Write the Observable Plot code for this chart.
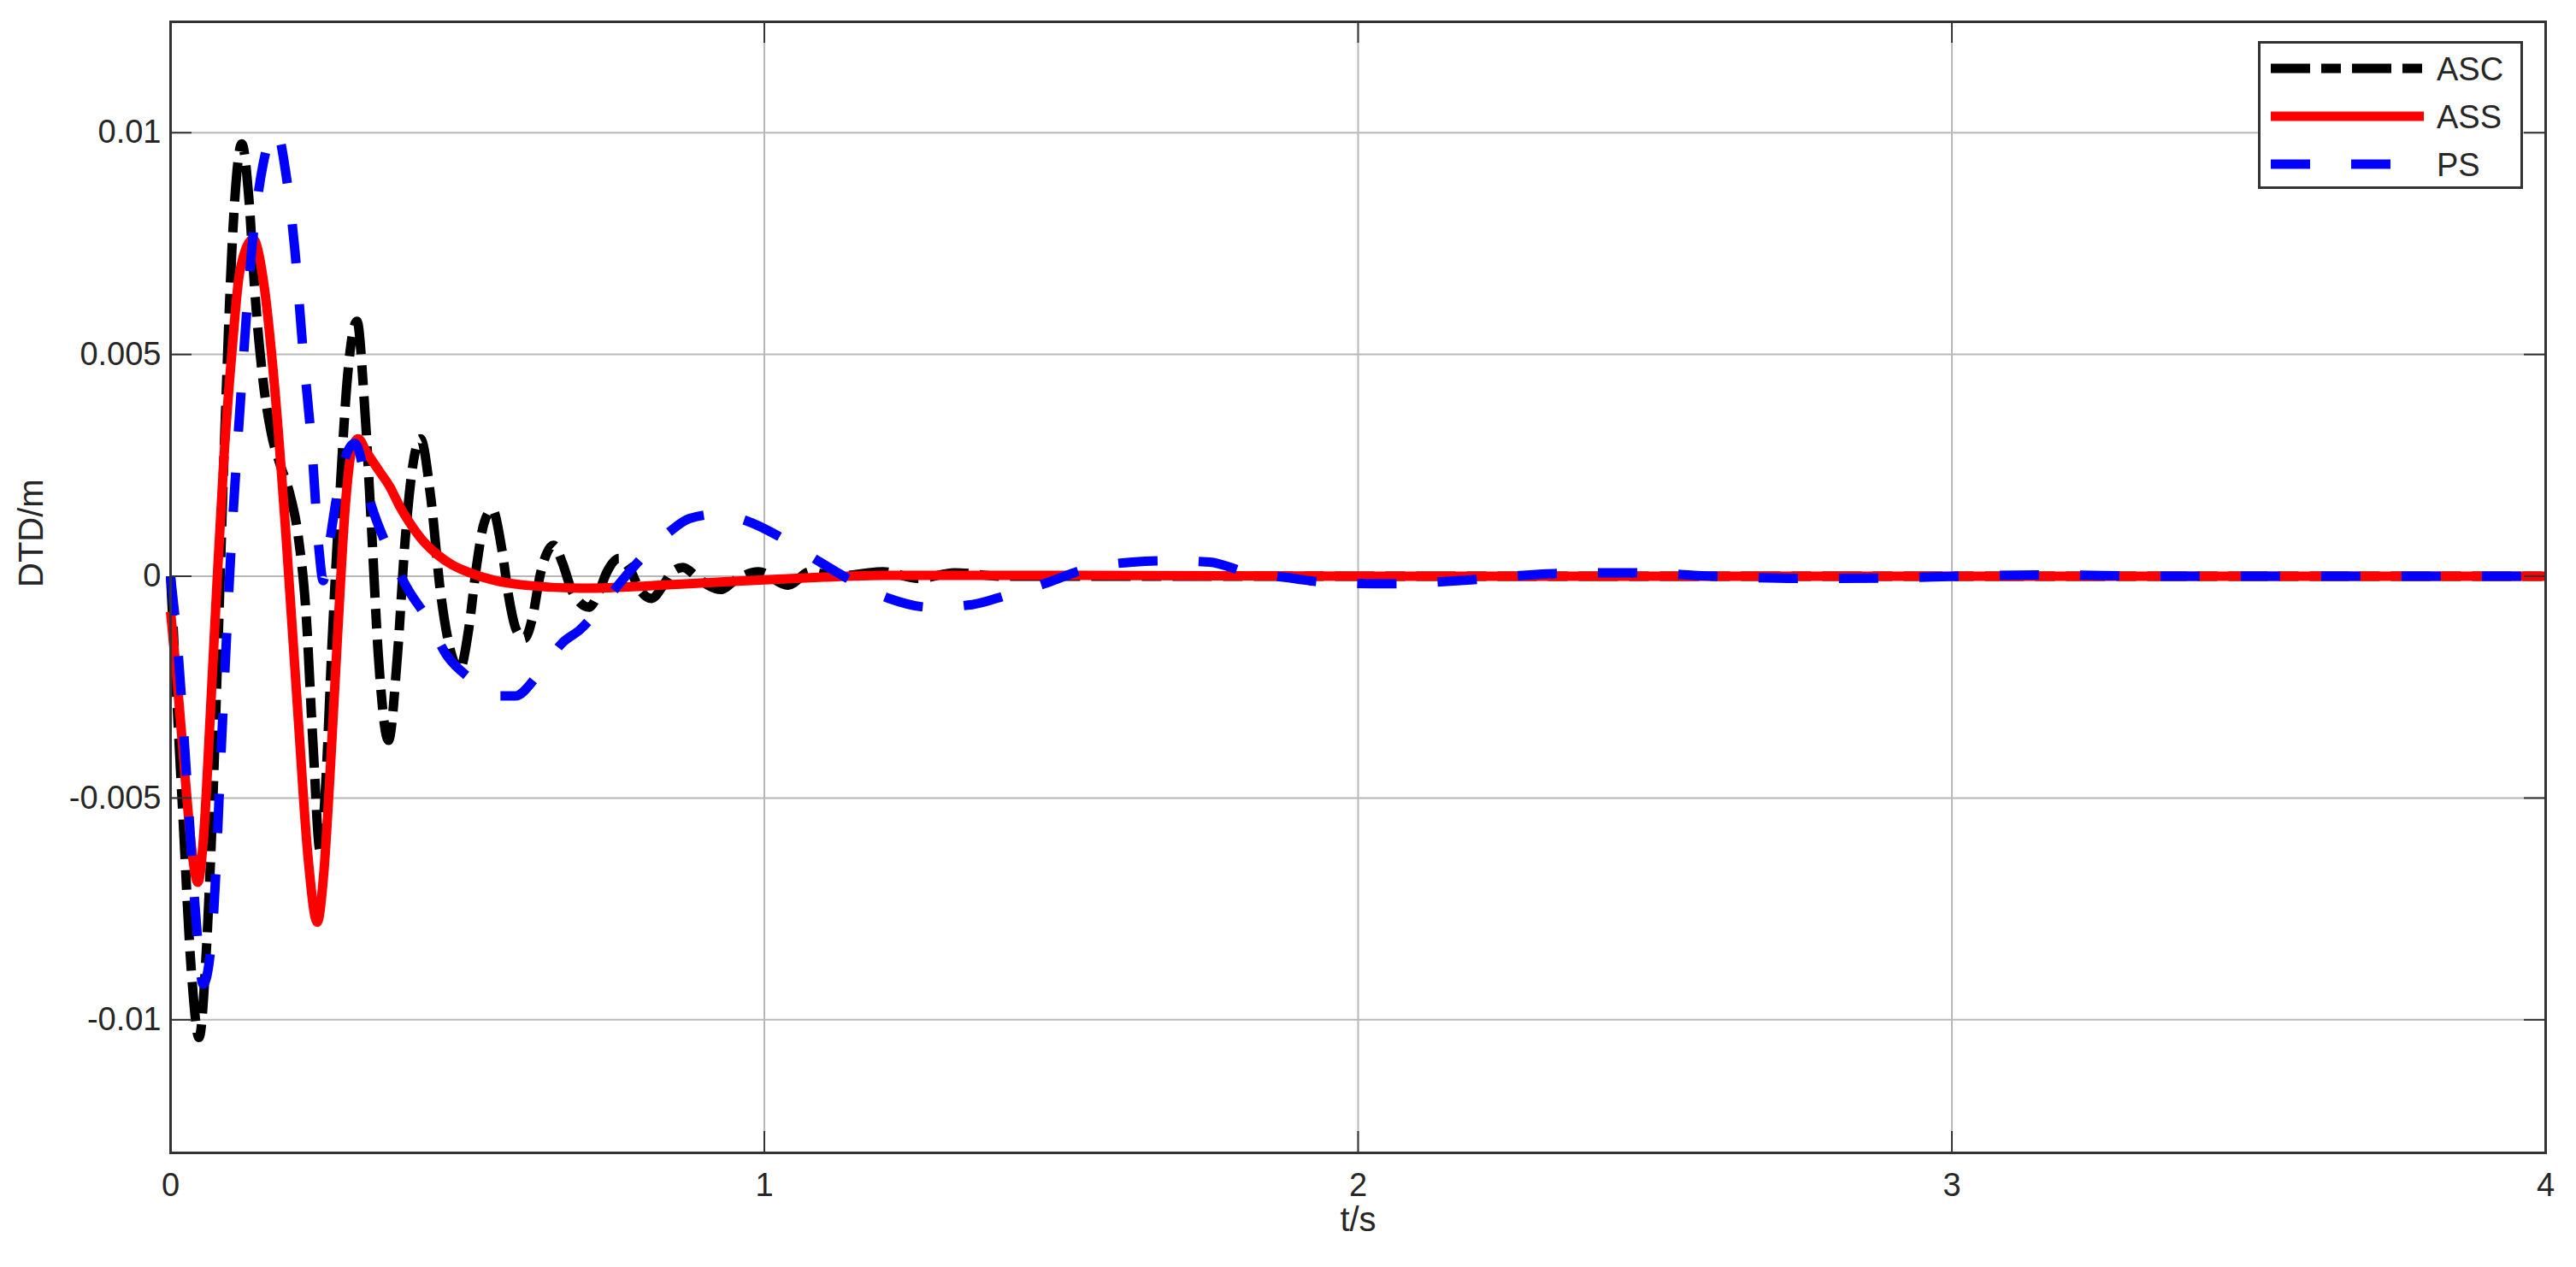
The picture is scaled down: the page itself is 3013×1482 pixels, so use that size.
<!DOCTYPE html>
<html><head><meta charset="utf-8">
<script src="https://cdn.jsdelivr.net/npm/d3@7"></script>
<script src="https://cdn.jsdelivr.net/npm/@observablehq/plot@0.6"></script>
<style>
html,body{margin:0;padding:0;background:#fff;}
#wrap{position:relative;width:3013px;height:1482px;overflow:hidden;}
#legend{position:absolute;left:2641px;top:48px;}
</style></head><body><div id="wrap"></div>
<script>
const xTicks = [0, 1, 2, 3, 4];
const xTickLabels = ["0", "1", "2", "3", "4"];
const yTicks = [-0.01, -0.005, 0, 0.005, 0.01];
const yTickLabels = ["-0.01", "-0.005", "0", "0.005", "0.01"];
const seriesNames = ["ASC", "ASS", "PS"];
const seriesColors = ["#000000", "#ff0000", "#0000ff"];
const seriesDash = ["46,13,23,13", null, "46,48"];

const ascT = [0, 0.02, 0.035, 0.048, 0.06, 0.07, 0.08, 0.092, 0.105, 0.12, 0.132, 0.142, 0.155, 0.17, 0.185, 0.2, 0.215, 0.228, 0.24, 0.252, 0.262, 0.272, 0.285, 0.298, 0.314, 0.326, 0.338, 0.35, 0.367, 0.382, 0.395, 0.408, 0.421, 0.438, 0.455, 0.47, 0.487, 0.502, 0.515, 0.528, 0.542, 0.558, 0.57, 0.582, 0.596, 0.61, 0.622, 0.633, 0.645, 0.66, 0.675, 0.69, 0.705, 0.72, 0.735, 0.755, 0.772, 0.79, 0.81, 0.83, 0.845, 0.863, 0.885, 0.905, 0.927, 0.95, 0.99, 1.04, 1.077, 1.12, 1.2, 1.26, 1.32, 1.4, 4];
const ascV = [0, -0.0052, -0.0089, -0.0104, -0.0085, -0.0055, -0.0015, 0.0035, 0.0078, 0.00975, 0.0085, 0.0064, 0.0045, 0.0032, 0.0025, 0.0019, 0.0009, -0.0008, -0.0038, -0.0062, -0.0045, -0.0015, 0.0018, 0.0045, 0.00575, 0.0040, 0.0012, -0.0018, -0.0037, -0.0018, 0.0008, 0.0025, 0.0031, 0.0018, -0.0004, -0.0016, -0.0021, -0.0012, 0.0002, 0.0012, 0.0015, 0.0006, -0.0005, -0.0012, -0.0014, -0.0009, 0.0000, 0.0005, 0.0007, 0.0003, -0.0003, -0.0006, -0.0007, -0.0004, 0.0001, 0.0004, 0.0002, -0.0003, -0.0005, -0.0002, 0.0001, 0.0002, 0.0000, -0.0002, -0.0003, -0.0001, 0.0001, -0.0002, 0.0001, 0.0000, 0.0001, -0.00005, 0.00008, 0, 0];

const assT = [0, 0.012, 0.025, 0.036, 0.046, 0.056, 0.067, 0.078, 0.09, 0.103, 0.117, 0.139, 0.157, 0.175, 0.194, 0.214, 0.232, 0.247, 0.258, 0.268, 0.281, 0.295, 0.306, 0.316, 0.33, 0.35, 0.37, 0.385, 0.403, 0.425, 0.451, 0.475, 0.5, 0.547, 0.595, 0.69, 0.8, 0.9, 1.0, 1.1, 1.2, 1.5, 2, 4];
const assV = [-0.0008, -0.0025, -0.0046, -0.0062, -0.0069, -0.0058, -0.0031, -0.0002, 0.0027, 0.0050, 0.0069, 0.0076, 0.0066, 0.0043, 0.0010, -0.0030, -0.0064, -0.0078, -0.0067, -0.0046, -0.0014, 0.0017, 0.0029, 0.0031, 0.0028, 0.0024, 0.0020, 0.0016, 0.0012, 0.0008, 0.00047, 0.00025, 0.0001, -0.0001, -0.0002, -0.00027, -0.00022, -0.00015, -0.00008, -0.00002, 0.00002, 0.00002, 0, 0];

const psT = [0, 0.012, 0.026, 0.041, 0.055, 0.065, 0.072, 0.086, 0.101, 0.118, 0.137, 0.156, 0.178, 0.194, 0.209, 0.223, 0.238, 0.25, 0.257, 0.266, 0.28, 0.295, 0.31, 0.338, 0.367, 0.4, 0.43, 0.466, 0.504, 0.55, 0.58, 0.62, 0.66, 0.69, 0.73, 0.76, 0.8, 0.84, 0.874, 0.92, 0.97, 1.03, 1.09, 1.147, 1.21, 1.28, 1.35, 1.41, 1.48, 1.54, 1.62, 1.68, 1.75, 1.81, 1.88, 1.95, 2.05, 2.19, 2.33, 2.47, 2.6, 2.74, 2.88, 3.01, 3.16, 3.35, 4];
const psV = [0, -0.0016, -0.0043, -0.0074, -0.0092, -0.0087, -0.0077, -0.0037, 0.0004, 0.0040, 0.0074, 0.0093, 0.01005, 0.0091, 0.0074, 0.0051, 0.0029, 0.0006, -0.0001, 0.0006, 0.0018, 0.0027, 0.0030, 0.0016, 0.0006, -0.0003, -0.0009, -0.0018, -0.0023, -0.0027, -0.0027, -0.0022, -0.0015, -0.0012, -0.0006, -0.0001, 0.0005, 0.0010, 0.0013, 0.0014, 0.00125, 0.00086, 0.00035, -0.0001, -0.0005, -0.0007, -0.00064, -0.00042, -0.00013, 0.00016, 0.00032, 0.00035, 0.00032, 0.0001, -0.00003, -0.00014, -0.00017, -0.00008, 0.00006, 0.00008, 0, -0.00005, -0.00004, 0, 0.00003, 0, 0];

const toRows = (T, V) => T.map((t, i) => ({t, v: V[i]}));
const asc = toRows(ascT, ascV);
const ass = toRows(assT, assV);
const ps = toRows(psT, psV);
const seriesData = [asc, ass, ps];

const W = 3013, H = 1482, ML = 199, MR = 36, MT = 25, MB = 134;
const innerW = W - ML - MR, innerH = H - MT - MB;
const tickLen = 25;
const axisColor = "#333333";
const font = "'Liberation Sans', Arial, sans-serif";

const lineMarks = seriesData.map((data, i) => Plot.line(data, {
  x: "t", y: "v", stroke: seriesColors[i], strokeWidth: 11,
  strokeDasharray: seriesDash[i] || undefined,
  strokeLinecap: "butt", strokeLinejoin: "round", curve: "monotone-x"
}));

const chart = Plot.plot({
  width: W, height: H,
  marginLeft: ML, marginRight: MR, marginTop: MT, marginBottom: MB,
  style: {fontFamily: font, fontSize: "38px", color: "#262626", background: "#ffffff"},
  x: {domain: [0, 4], ticks: xTicks},
  y: {domain: [-0.013, 0.0125], ticks: yTicks},
  marks: [
    Plot.gridX(xTicks, {stroke: "#b8b8b8", strokeOpacity: 1, strokeWidth: 2}),
    Plot.gridY(yTicks, {stroke: "#b8b8b8", strokeOpacity: 1, strokeWidth: 2}),
    ...lineMarks,
    Plot.tickX(xTicks, {x: d => d, insetTop: innerH - tickLen, stroke: axisColor, strokeWidth: 2}),
    Plot.tickX(xTicks, {x: d => d, insetBottom: innerH - tickLen, stroke: axisColor, strokeWidth: 2}),
    Plot.tickY(yTicks, {y: d => d, insetRight: innerW - tickLen, stroke: axisColor, strokeWidth: 2}),
    Plot.tickY(yTicks, {y: d => d, insetLeft: innerW - tickLen, stroke: axisColor, strokeWidth: 2}),
    Plot.frame({stroke: axisColor, strokeWidth: 3}),
    Plot.axisX(xTicks, {tickSize: 0, tickPadding: 24, fontSize: 38, label: null,
      tickFormat: d => xTickLabels[xTicks.indexOf(d)]}),
    Plot.axisY(yTicks, {tickSize: 0, tickPadding: 11, fontSize: 38, label: null,
      tickFormat: d => yTickLabels[yTicks.indexOf(d)]}),
    Plot.text(["DTD/m"], {text: d => d, frameAnchor: "left", dx: -162, rotate: -90, fontSize: 40, fill: "#262626"}),
    Plot.text(["t/s"], {text: d => d, frameAnchor: "bottom", dy: 91, fontSize: 40, fill: "#262626"})
  ]
});
const wrap = document.getElementById("wrap");
wrap.appendChild(chart);

// Legend (inside plot, top-right)
const LW = 310, LH = 173;
const leg = d3.select(wrap).append("svg").attr("id", "legend")
  .attr("width", LW).attr("height", LH);
leg.append("rect").attr("x", 1.5).attr("y", 1.5).attr("width", LW - 3).attr("height", LH - 3)
  .attr("fill", "#fff").attr("stroke", axisColor).attr("stroke-width", 3);
seriesNames.forEach((name, i) => {
  const cy = 32 + i * 56;
  const ln = leg.append("line").attr("x1", 15).attr("x2", 194).attr("y1", cy).attr("y2", cy)
    .attr("stroke", seriesColors[i]).attr("stroke-width", 11);
  if (seriesDash[i]) ln.attr("stroke-dasharray", seriesDash[i]);
  leg.append("text").attr("x", 209).attr("y", cy + 14).text(name)
    .attr("font-family", font).attr("font-size", 38).attr("fill", "#262626");
});
</script>
</body></html>
